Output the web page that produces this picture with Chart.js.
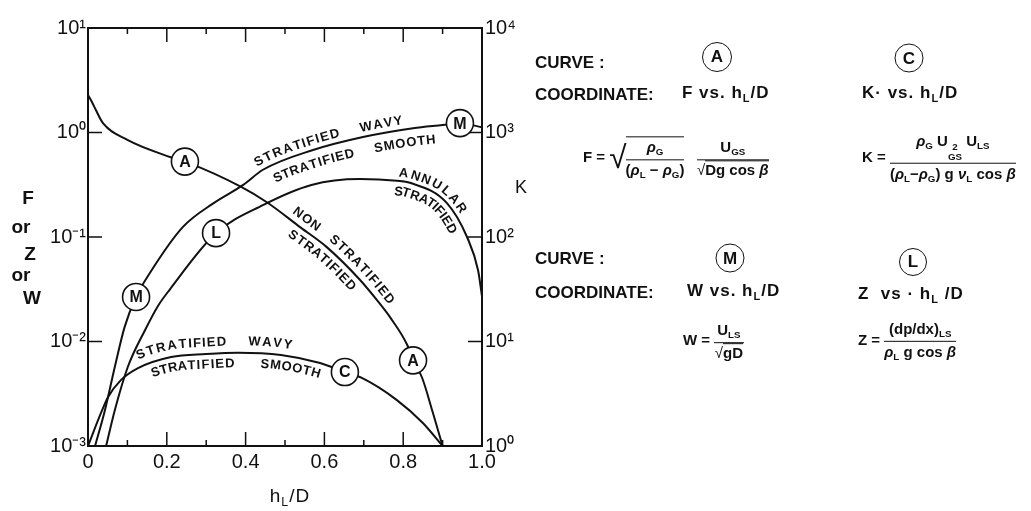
<!DOCTYPE html>
<html><head><meta charset="utf-8">
<script src="https://cdn.jsdelivr.net/npm/chart.js@4"></script>
<style>
body{margin:0;background:#fff;width:1031px;height:511px;overflow:hidden;position:relative;font-family:"Liberation Sans",Arial,sans-serif;color:#111}
#c{position:absolute;left:0;top:0}
.t{position:absolute;white-space:nowrap;font-weight:bold;line-height:1;transform:translateY(-50%)}
.w{letter-spacing:1px}
.cc{position:absolute;white-space:nowrap;line-height:1;transform:translate(-50%,-50%)}
.circ{position:absolute;border:1.6px solid #111;border-radius:50%;display:flex;align-items:center;justify-content:center;font-weight:bold;box-sizing:border-box;font-size:17px;transform:translate(-50%,-50%)}
.frac{display:inline-flex;flex-direction:column;align-items:center;vertical-align:middle}
.frac>.n{border-bottom:1.6px solid #111;padding:0 3px 2px;align-self:stretch;text-align:center}
.frac>.d{padding-top:2px}
.sb{font-size:0.65em;vertical-align:-0.3em}
.ss{display:inline-flex;flex-direction:column;font-size:0.65em;vertical-align:-0.45em;line-height:0.95}
.rt{font-size:2.1em;font-weight:normal;vertical-align:middle;margin-right:-1px}
.ov{display:inline-block;border-top:1.6px solid #111;vertical-align:middle;padding-top:2px}
i{font-style:italic}
</style></head>
<body>
<canvas id="c" width="1031" height="511"></canvas>

<div class="cc" style="left:28px;top:197px;font-size:19px;font-weight:bold">F</div>
<div class="cc" style="left:21px;top:226px;font-size:19px;font-weight:bold">or</div>
<div class="cc" style="left:30px;top:253px;font-size:19px;font-weight:bold">Z</div>
<div class="cc" style="left:21px;top:274px;font-size:19px;font-weight:bold">or</div>
<div class="cc" style="left:32px;top:297px;font-size:19px;font-weight:bold">W</div>
<div class="cc" style="left:521px;top:187px;font-size:18px">K</div>
<div class="cc" style="left:290px;top:497px;font-size:19px;letter-spacing:1px">h<span class="sb">L</span>/D</div>

<div class="t" style="left:535px;top:62px;font-size:17px">CURVE :</div>
<div class="circ" style="left:717px;top:57px;width:30px;height:30px">A</div>
<div class="circ" style="left:909px;top:58px;width:29px;height:29px">C</div>
<div class="t" style="left:535px;top:94px;font-size:17px">COORDINATE:</div>
<div class="t w" style="left:682px;top:94px;font-size:17px">F vs. h<span class="sb">L</span>/D</div>
<div class="t w" style="left:862px;top:94px;font-size:17px">K· vs. h<span class="sb">L</span>/D</div>

<div class="t" style="left:583px;top:158px;font-size:15px">F = <span class="rt">√</span><span class="ov"><span class="frac"><span class="n"><i>ρ</i><span class="sb">G</span></span><span class="d">(<i>ρ</i><span class="sb">L</span> − <i>ρ</i><span class="sb">G</span>)</span></span></span>&nbsp;&nbsp;&nbsp;<span class="frac"><span class="n">U<span class="sb">GS</span></span><span class="d"><span style="font-weight:normal">√</span><span style="border-top:1.4px solid #111">Dg cos <i>β</i></span></span></span></div>

<div class="t" style="left:862px;top:158px;font-size:15px">K = <span class="frac"><span class="n"><i>ρ</i><span class="sb">G</span> U<span class="ss"><span>2</span><span>GS</span></span> U<span class="sb">LS</span></span><span class="d">(<i>ρ</i><span class="sb">L</span>−<i>ρ</i><span class="sb">G</span>) g <i>ν</i><span class="sb">L</span> cos <i>β</i></span></span></div>

<div class="t" style="left:535px;top:258px;font-size:17px">CURVE :</div>
<div class="circ" style="left:730px;top:258px;width:29px;height:29px">M</div>
<div class="circ" style="left:913px;top:262px;width:28px;height:28px">L</div>
<div class="t" style="left:535px;top:292px;font-size:17px">COORDINATE:</div>
<div class="t w" style="left:687px;top:292px;font-size:17px">W vs. h<span class="sb">L</span>/D</div>
<div class="t w" style="left:858px;top:295px;font-size:17px">Z&nbsp;&nbsp;vs · h<span class="sb">L</span> /D</div>

<div class="t" style="left:683px;top:341px;font-size:15px">W = <span class="frac"><span class="n">U<span class="sb">LS</span></span><span class="d"><span style="font-weight:normal">√</span><span style="border-top:1.4px solid #111">gD</span></span></span></div>
<div class="t" style="left:858px;top:341px;font-size:15px">Z = <span class="frac"><span class="n">(dp/dx)<span class="sb">LS</span></span><span class="d"><i>ρ</i><span class="sb">L</span> g cos <i>β</i></span></span></div>

<script>
// ---------- data ----------
const hA = [0, 0.01, 0.02, 0.038, 0.1, 0.21, 0.25, 0.39, 0.454, 0.54, 0.606, 0.69, 0.733, 0.767, 0.81, 0.825, 0.848, 0.875, 0.9];
const curveA = [2.29, 1.96, 1.64, 1.23, 0.85, 0.58, 0.52, 0.30, 0.215, 0.123, 0.080, 0.039, 0.025, 0.017, 0.0093, 0.0066, 0.0045, 0.0021, 0.001];

const hM = [0.018, 0.043, 0.068, 0.093, 0.122, 0.157, 0.241, 0.318, 0.394, 0.444, 0.571, 0.698, 0.825, 0.9, 0.944, 1.0];
const curveM = [0.001, 0.0022, 0.0057, 0.0138, 0.0267, 0.0453, 0.125, 0.21, 0.315, 0.44, 0.68, 0.906, 1.10, 1.18, 1.23, 1.12];

const hL = [0.046, 0.068, 0.101, 0.145, 0.178, 0.208, 0.325, 0.444, 0.567, 0.69, 0.784, 0.817, 0.911, 0.962, 0.99, 1.0];
const curveL = [0.001, 0.0022, 0.0057, 0.0129, 0.022, 0.0316, 0.109, 0.202, 0.315, 0.359, 0.345, 0.33, 0.211, 0.1, 0.048, 0.027];

const hC = [0, 0.033, 0.051, 0.084, 0.127, 0.211, 0.3, 0.381, 0.49, 0.589, 0.652, 0.695, 0.784, 0.85, 0.9];
const curveC = [1, 2.07, 2.94, 4.29, 5.57, 7.11, 7.59, 7.82, 7.43, 6.22, 5.1, 4.48, 2.75, 1.66, 1];

const xTicks = [0, 0.2, 0.4, 0.6, 0.8, 1.0];
const xTickLabels = ['0', '0.2', '0.4', '0.6', '0.8', '1.0'];
const yTicks = [0.001, 0.01, 0.1, 1, 10];
const yTickLabels = ['10⁻³', '10⁻²', '10⁻¹', '10⁰', '10¹'];
const kTicks = [1, 10, 100, 1000, 10000];
const kTickLabels = ['10⁰', '10¹', '10²', '10³', '10⁴'];

const circleLabels = [
  {ds: 0, h: 0.246, t: 'A'}, {ds: 0, h: 0.825, t: 'A'},
  {ds: 1, h: 0.122, t: 'M'}, {ds: 1, h: 0.944, t: 'M'},
  {ds: 2, h: 0.325, t: 'L'}, {ds: 3, h: 0.652, t: 'C'}
];
const regionLabels = [
  {ds: 1, h: 0.436, t: 'STRATIFIED', off: -9}, {ds: 1, h: 0.695, t: 'WAVY', off: -9},
  {ds: 1, h: 0.457, t: 'STRATIFIED', off: 14}, {ds: 1, h: 0.72, t: 'SMOOTH', off: 14},
  {ds: 2, h: 0.787, t: 'ANNULAR', off: -8}, {ds: 2, h: 0.78, t: 'STRATIFIED', off: 11},
  {ds: 0, h: 0.508, t: 'NON', off: -10}, {ds: 0, h: 0.6, t: 'STRATIFIED', off: -10},
  {ds: 0, h: 0.528, t: 'STRATIFIED', off: 11},
  {ds: 3, h: 0.135, t: 'STRATIFIED', off: -11}, {ds: 3, h: 0.406, t: 'WAVY', off: -11},
  {ds: 3, h: 0.152, t: 'STRATIFIED', off: 11}, {ds: 3, h: 0.44, t: 'SMOOTH', off: 11}
];

// ---------- helpers ----------
const INK = '#111';
function toXY(xs, ys) { return xs.map((x, i) => ({x: x, y: ys[i]})); }

function curvePts(chart, di) {
  const pts = chart.getDatasetMeta(di).data;
  const out = [];
  for (let i = 0; i < pts.length - 1; i++) {
    const p = pts[i], q = pts[i + 1];
    const c1x = p.cp2x !== undefined ? p.cp2x : p.x, c1y = p.cp2y !== undefined ? p.cp2y : p.y;
    const c2x = q.cp1x !== undefined ? q.cp1x : q.x, c2y = q.cp1y !== undefined ? q.cp1y : q.y;
    for (let k = 0; k < 30; k++) {
      const t = k / 30, u = 1 - t;
      out.push({
        x: u*u*u*p.x + 3*u*u*t*c1x + 3*u*t*t*c2x + t*t*t*q.x,
        y: u*u*u*p.y + 3*u*u*t*c1y + 3*u*t*t*c2y + t*t*t*q.y
      });
    }
  }
  const last = pts[pts.length - 1];
  out.push({x: last.x, y: last.y});
  return out;
}
function yAtX(pts, x) {
  for (let i = 1; i < pts.length; i++) {
    if (pts[i].x >= x) {
      const a = pts[i - 1], b = pts[i];
      const f = b.x === a.x ? 0 : (x - a.x) / (b.x - a.x);
      return a.y + f * (b.y - a.y);
    }
  }
  return pts[pts.length - 1].y;
}
function textAlong(ctx, pts, x0, text, off, spacing) {
  const cum = [0];
  for (let i = 1; i < pts.length; i++) cum.push(cum[i - 1] + Math.hypot(pts[i].x - pts[i - 1].x, pts[i].y - pts[i - 1].y));
  let i0 = pts.findIndex(p => p.x >= x0); if (i0 < 1) i0 = 1;
  const a = pts[i0 - 1], b = pts[i0];
  const f = b.x === a.x ? 0 : (x0 - a.x) / (b.x - a.x);
  let s = cum[i0 - 1] + f * (cum[i0] - cum[i0 - 1]);
  function at(sv) {
    let j = 1;
    while (j < cum.length - 1 && cum[j] < sv) j++;
    const p = pts[j - 1], q = pts[j];
    const g = cum[j] === cum[j - 1] ? 0 : (sv - cum[j - 1]) / (cum[j] - cum[j - 1]);
    const lo = pts[Math.max(0, j - 4)], hi = pts[Math.min(pts.length - 1, j + 3)];
    return {x: p.x + g * (q.x - p.x), y: p.y + g * (q.y - p.y), ang: Math.atan2(hi.y - lo.y, hi.x - lo.x)};
  }
  for (const ch of text) {
    const w = ctx.measureText(ch).width;
    const m = at(s + w / 2);
    ctx.save();
    ctx.translate(m.x, m.y);
    ctx.rotate(m.ang);
    ctx.fillText(ch, 0, off);
    ctx.restore();
    s += w + spacing;
  }
}

const framePlugin = {
  id: 'frame',
  beforeDatasetsDraw(chart) {
    const {ctx, chartArea: ca, scales} = chart;
    ctx.save();
    ctx.strokeStyle = INK;
    ctx.lineWidth = 2;
    ctx.strokeRect(ca.left, ca.top, ca.right - ca.left, ca.bottom - ca.top);
    ctx.lineWidth = 1.5;
    ctx.beginPath();
    for (let k = 1; k < 10; k++) {
      const x = scales.x.getPixelForValue(k / 10);
      const len = k % 2 === 0 ? 14 : 6;
      ctx.moveTo(x, ca.top); ctx.lineTo(x, ca.top + len);
      ctx.moveTo(x, ca.bottom); ctx.lineTo(x, ca.bottom - len);
    }
    yTicks.slice(1, -1).forEach(v => {
      const y = scales.y.getPixelForValue(v);
      ctx.moveTo(ca.left, y); ctx.lineTo(ca.left + 14, y);
    });
    kTicks.slice(1, -1).forEach(v => {
      const y = scales.k.getPixelForValue(v);
      ctx.moveTo(ca.right, y); ctx.lineTo(ca.right - 14, y);
    });
    ctx.stroke();
    ctx.restore();
  },
  afterDatasetsDraw(chart) {
    const {ctx, scales} = chart;
    const paths = [0, 1, 2, 3].map(i => curvePts(chart, i));
    ctx.save();
    ctx.fillStyle = INK;
    ctx.font = 'bold 13px "Liberation Sans", Arial, sans-serif';
    ctx.textAlign = 'center';
    ctx.textBaseline = 'middle';
    regionLabels.forEach(r => textAlong(ctx, paths[r.ds], scales.x.getPixelForValue(r.h), r.t, r.off, 1.2));
    circleLabels.forEach(c => {
      const x = scales.x.getPixelForValue(c.h);
      const y = yAtX(paths[c.ds], x);
      ctx.beginPath();
      ctx.arc(x, y, 13.5, 0, Math.PI * 2);
      ctx.fillStyle = '#fff';
      ctx.fill();
      ctx.lineWidth = 1.6;
      ctx.strokeStyle = INK;
      ctx.stroke();
      ctx.fillStyle = INK;
      ctx.font = 'bold 16px "Liberation Sans", Arial, sans-serif';
      ctx.fillText(c.t, x, y + 1);
    });
    ctx.restore();
  }
};

const lineStyle = {borderColor: INK, borderWidth: 2, pointRadius: 0, cubicInterpolationMode: 'monotone', fill: false};
const tickFont = {family: '"Liberation Sans", Arial, sans-serif', size: 20};

new Chart(document.getElementById('c'), {
  type: 'line',
  data: {
    datasets: [
      Object.assign({label: 'A  F vs hL/D', data: toXY(hA, curveA), yAxisID: 'y'}, lineStyle),
      Object.assign({label: 'M  W vs hL/D', data: toXY(hM, curveM), yAxisID: 'y'}, lineStyle),
      Object.assign({label: 'L  Z vs hL/D', data: toXY(hL, curveL), yAxisID: 'y'}, lineStyle),
      Object.assign({label: 'C  K vs hL/D', data: toXY(hC, curveC), yAxisID: 'k'}, lineStyle)
    ]
  },
  options: {
    responsive: false,
    animation: false,
    devicePixelRatio: 1,
    layout: {padding: {top: 28, left: 0, right: 500, bottom: 15}},
    plugins: {legend: {display: false}, tooltip: {enabled: false}},
    scales: {
      x: {
        type: 'linear', min: 0, max: 1,
        afterBuildTicks: s => { s.ticks = xTicks.map(v => ({value: v})); },
        ticks: {callback: (v, i) => xTickLabels[i], font: tickFont, color: INK, padding: 4, maxRotation: 0, autoSkip: false},
        grid: {display: false, drawTicks: false}, border: {display: false},
        afterFit: s => { s.height = 50; }
      },
      y: {
        type: 'logarithmic', position: 'left', min: 0.001, max: 10,
        afterBuildTicks: s => { s.ticks = yTicks.map(v => ({value: v})); },
        ticks: {callback: (v, i) => yTickLabels[i], font: tickFont, color: INK, padding: 2, autoSkip: false},
        grid: {display: false, drawTicks: false}, border: {display: false},
        afterFit: s => { s.width = 88; }
      },
      k: {
        type: 'logarithmic', position: 'right', min: 1, max: 10000,
        afterBuildTicks: s => { s.ticks = kTicks.map(v => ({value: v})); },
        ticks: {callback: (v, i) => kTickLabels[i], font: tickFont, color: INK, padding: 3, autoSkip: false},
        grid: {display: false, drawTicks: false}, border: {display: false},
        afterFit: s => { s.width = 49; }
      }
    }
  },
  plugins: [framePlugin]
});
</script>
</body></html>
